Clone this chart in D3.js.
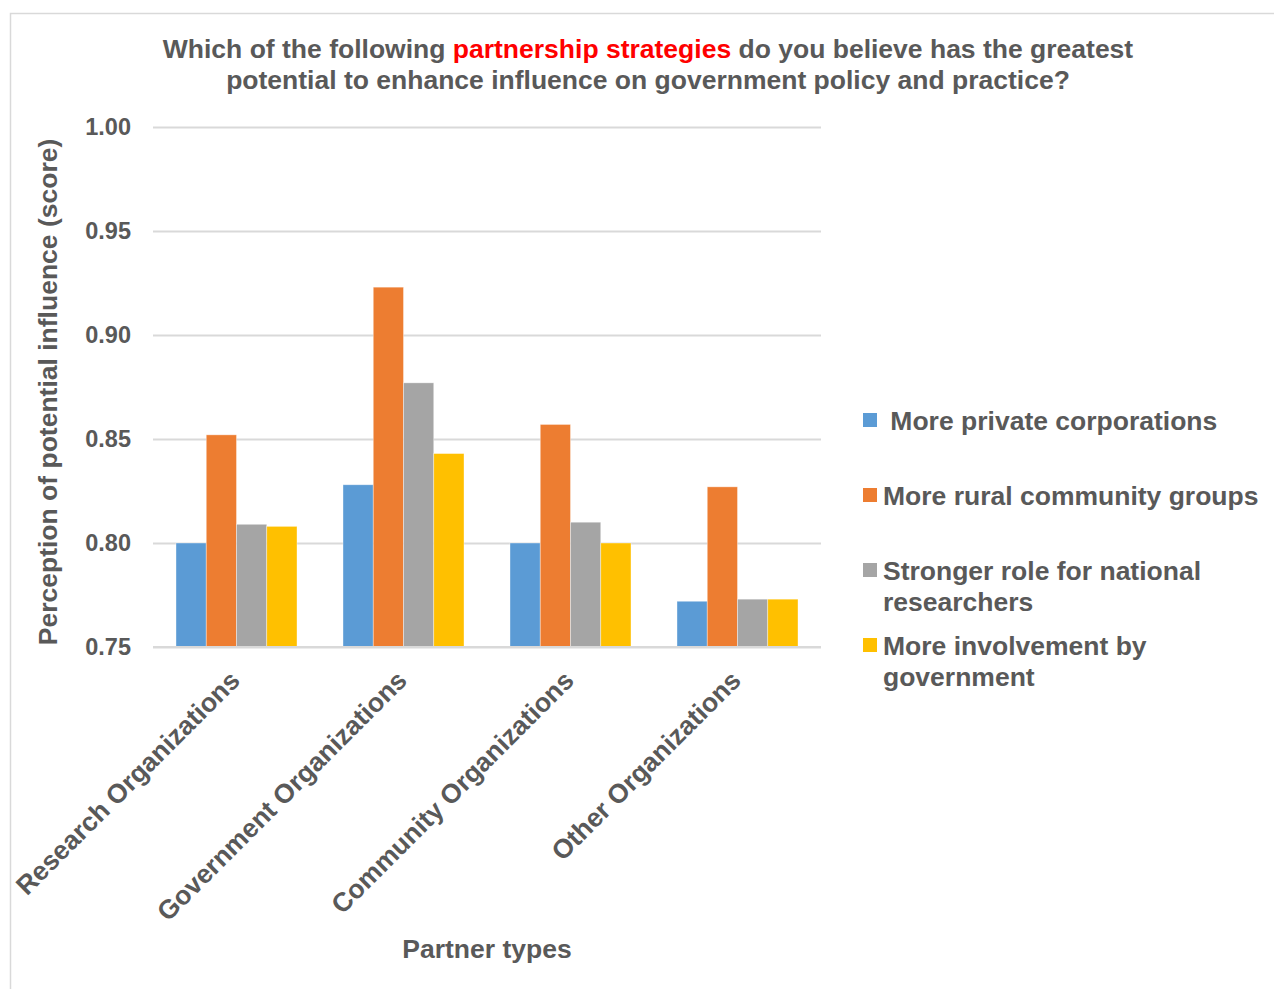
<!DOCTYPE html>
<html>
<head>
<meta charset="utf-8">
<script src="https://cdn.jsdelivr.net/npm/d3@7"></script>
<style>
  html, body { margin: 0; padding: 0; background: #fff; }
  svg { display: block; font-family: "Liberation Sans", Arial, sans-serif; }
</style>
</head>
<body>
<svg id="chart" width="1274" height="989"></svg>
<script>
// Partner types on the x axis
const categories = [
  "Research Organizations",
  "Government Organizations",
  "Community Organizations",
  "Other Organizations"
];

// Partnership strategies (legend entries)
const seriesNames = [
  "More private corporations",
  "More rural community groups",
  "Stronger role for national researchers",
  "More involvement by government"
];

// Scores per strategy, in category order
const privateCorporations = [0.800, 0.828, 0.800, 0.772];
const ruralCommunityGroups = [0.852, 0.923, 0.857, 0.827];
const nationalResearchers = [0.809, 0.877, 0.810, 0.773];
const governmentInvolvement = [0.808, 0.843, 0.800, 0.773];

const yTicks = [0.75, 0.80, 0.85, 0.90, 0.95, 1.00];

const seriesValues = [privateCorporations, ruralCommunityGroups, nationalResearchers, governmentInvolvement];
const colors = ["#5b9bd5", "#ed7d31", "#a5a5a5", "#ffc000"];
const textColor = "#595959";
const gridColor = "#d9d9d9";
const font = "Liberation Sans, Arial, sans-serif";

const svg = d3.select("#chart");

// outer frame
svg.append("path")
  .attr("d", "M10.5,995 L10.5,13.5 L1280,13.5")
  .attr("fill", "none")
  .attr("stroke", gridColor)
  .attr("stroke-width", 1.5);

const plot = { left: 153, right: 821, top: 127, bottom: 647 };

const x0 = d3.scaleBand()
  .domain(categories)
  .range([plot.left, plot.right])
  .paddingInner(0.2754)
  .paddingOuter(0.1377);

const x1 = d3.scaleBand()
  .domain(d3.range(seriesNames.length))
  .range([0, x0.bandwidth()])
  .padding(0);

const y = d3.scaleLinear()
  .domain([0.75, 1.00])
  .range([plot.bottom, plot.top]);

// gridlines and value labels
const yAxis = d3.axisLeft(y)
  .tickValues(yTicks)
  .tickSize(-(plot.right - plot.left))
  .tickPadding(22)
  .tickFormat(d3.format(".2f"));

const gy = svg.append("g")
  .attr("transform", `translate(${plot.left},0)`)
  .call(yAxis);
gy.select(".domain").remove();
gy.selectAll(".tick line")
  .attr("stroke", gridColor)
  .attr("stroke-width", 2);
gy.selectAll(".tick text")
  .attr("fill", textColor)
  .attr("font-size", 23.5)
  .attr("font-weight", "bold")
  .attr("font-family", font);

// bars
const groups = svg.append("g")
  .selectAll("g")
  .data(categories)
  .join("g")
  .attr("transform", d => `translate(${x0(d)},0)`);

groups.selectAll("rect")
  .data((d, ci) => seriesValues.map((vals, si) => ({ si, v: vals[ci] })))
  .join("rect")
  .attr("x", d => x1(d.si))
  .attr("width", x1.bandwidth())
  .attr("y", d => y(d.v))
  .attr("height", d => y(0.75) - y(d.v))
  .attr("fill", d => colors[d.si])
  .attr("stroke", "#fff")
  .attr("stroke-opacity", 0.5)
  .attr("stroke-width", 0.75);

// baseline on top of bars
svg.append("line")
  .attr("x1", plot.left).attr("x2", plot.right)
  .attr("y1", y(0.75)).attr("y2", y(0.75))
  .attr("stroke", gridColor)
  .attr("stroke-width", 2);

// rotated category labels
const xAxis = d3.axisBottom(x0).tickSize(0).tickPadding(0);
const gx = svg.append("g")
  .attr("transform", `translate(0,${plot.bottom})`)
  .call(xAxis);
gx.select(".domain").remove();
gx.selectAll(".tick text")
  .attr("fill", textColor)
  .attr("font-size", 26.5)
  .attr("font-weight", "bold")
  .attr("font-family", font)
  .attr("text-anchor", "end")
  .attr("dy", null)
  .attr("transform", "translate(5,35) rotate(-45)");

// axis titles
svg.append("text")
  .attr("x", 487)
  .attr("y", 958)
  .attr("text-anchor", "middle")
  .attr("fill", textColor)
  .attr("font-size", 26.5)
  .attr("font-weight", "bold")
  .text("Partner types");

svg.append("text")
  .attr("transform", `translate(57,${(plot.top + plot.bottom) / 2 + 5}) rotate(-90)`)
  .attr("text-anchor", "middle")
  .attr("fill", textColor)
  .attr("font-size", 26.5)
  .attr("font-weight", "bold")
  .text("Perception of potential influence (score)");

// title
const title = svg.append("text")
  .attr("text-anchor", "middle")
  .attr("fill", textColor)
  .attr("font-size", 26.5)
  .attr("font-weight", "bold");
const line1 = title.append("tspan").attr("x", 648).attr("y", 58);
line1.append("tspan").text("Which of the following ");
line1.append("tspan").attr("fill", "#ff0000").text("partnership strategies");
line1.append("tspan").text(" do you believe has the greatest");
title.append("tspan").attr("x", 648).attr("y", 89)
  .text("potential to enhance influence on government policy and practice?");

// legend
const legendRows = [
  { lines: ["\u00a0" + seriesNames[0]], y: 420 },
  { lines: [seriesNames[1]], y: 495 },
  { lines: ["Stronger role for national", "researchers"], y: 570 },
  { lines: ["More involvement by", "government"], y: 645 }
];

const legend = svg.append("g");
legendRows.forEach((row, i) => {
  legend.append("rect")
    .attr("x", 863)
    .attr("y", row.y - 7)
    .attr("width", 14)
    .attr("height", 14)
    .attr("fill", colors[i]);
  const t = legend.append("text")
    .attr("fill", textColor)
    .attr("font-size", 26.5)
    .attr("font-weight", "bold");
  row.lines.forEach((ln, j) => {
    t.append("tspan")
      .attr("x", 883)
      .attr("y", row.y + 10 + j * 31)
      .text(ln);
  });
});
</script>
</body>
</html>
